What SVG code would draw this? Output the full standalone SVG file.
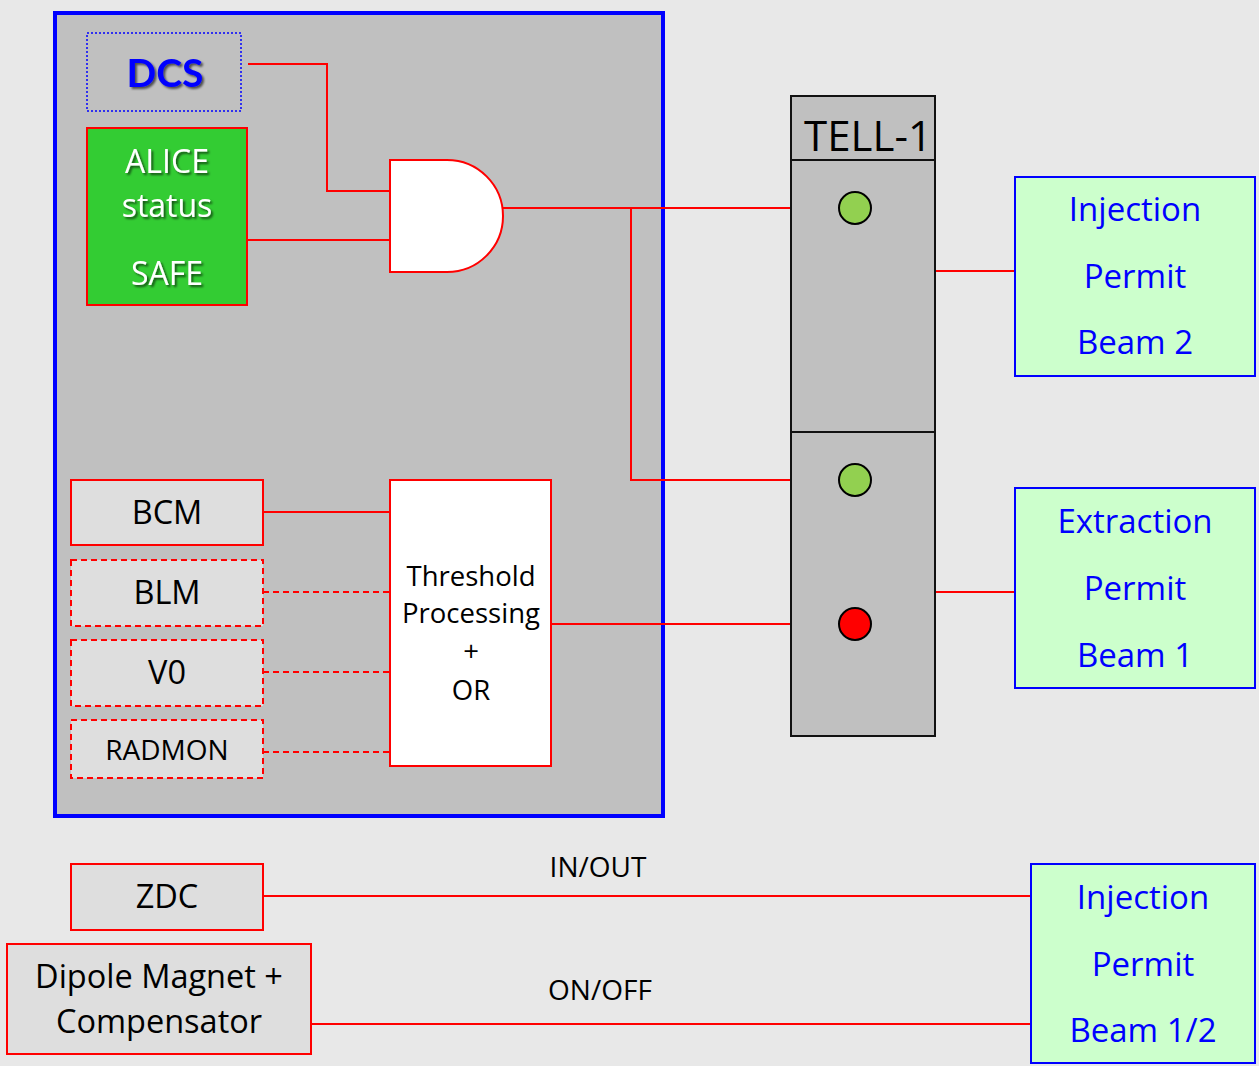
<svg xmlns="http://www.w3.org/2000/svg" width="1259" height="1066" viewBox="0 0 1259 1066">
<defs>
<filter id="sh" x="-20%" y="-20%" width="140%" height="140%">
<feDropShadow dx="2" dy="2" stdDeviation="1" flood-color="#000" flood-opacity="0.6"/>
</filter>
<style>
text{font-family:"Open Sans",Lato,sans-serif;text-anchor:middle}
.w{stroke:#ff0000;stroke-width:2;fill:none}
.d{stroke-dasharray:6 4}
.src{fill:#dedede;stroke:#ff0000;stroke-width:2}
.perm{fill:#ccffcc;stroke:#0000ff;stroke-width:2}
.pt{fill:#0000ff;font-size:33px}
.bt{fill:#000;font-size:32.5px}
.led{stroke:#000;stroke-width:2}
</style>
</defs>
<rect width="1259" height="1066" fill="#e8e8e8"/>
<g id="alice-box">
<rect x="55" y="13" width="608" height="803" fill="#c0c0c0" stroke="#0000ff" stroke-width="4"/>
</g>
<g id="connectors">
<polyline class="w" points="248,64 327,64 327,191 390,191"/>
<line class="w" x1="247" y1="240" x2="390" y2="240"/>
<line class="w" x1="503" y1="208" x2="791" y2="208"/>
<polyline class="w" points="631,208 631,480 791,480"/>
<line class="w" x1="263" y1="512" x2="390" y2="512"/>
<line class="w d" x1="263" y1="592" x2="390" y2="592"/>
<line class="w d" x1="263" y1="672" x2="390" y2="672"/>
<line class="w d" x1="263" y1="752" x2="390" y2="752"/>
<line class="w" x1="551" y1="624" x2="791" y2="624"/>
<line class="w" x1="935" y1="271" x2="1015" y2="271"/>
<line class="w" x1="935" y1="592" x2="1015" y2="592"/>
<line class="w" x1="263" y1="896" x2="1031" y2="896"/>
<line class="w" x1="311" y1="1024" x2="1031" y2="1024"/>
<text x="598" y="877" font-size="28" fill="#000">IN/OUT</text>
<text x="600" y="1000" font-size="28" fill="#000">ON/OFF</text>
</g>
<g id="dcs">
<rect x="87" y="33" width="154" height="78" fill="none" stroke="#0000ff" stroke-width="1.5" stroke-dasharray="2 2"/>
<text x="165" y="87" font-size="39" font-weight="bold" fill="#0000ff" filter="url(#sh)" style="font-family:Lato,sans-serif">DCS</text>
</g>
<g id="alice-status">
<rect x="87" y="128" width="160" height="177" fill="#33cc33" stroke="#ff0000" stroke-width="2"/>
<g fill="#fff" font-size="32" filter="url(#sh)">
<text x="167" y="173">ALICE</text>
<text x="167" y="217">status</text>
<text x="167" y="285">SAFE</text>
</g>
</g>
<g id="and-gate">
<path d="M390,160 H447 A56,56 0 0 1 447,272 H390 Z" fill="#fff" stroke="#ff0000" stroke-width="2"/>
</g>
<g id="bcm"><rect class="src" x="71" y="480" width="192" height="65"/><text class="bt" x="167" y="524">BCM</text></g>
<g id="blm"><rect class="src d" x="71" y="560" width="192" height="66"/><text class="bt" x="167" y="604">BLM</text></g>
<g id="v0"><rect class="src d" x="71" y="640" width="192" height="66"/><text class="bt" x="167" y="684">V0</text></g>
<g id="radmon"><rect class="src d" x="71" y="720" width="192" height="58"/><text x="167" y="760" font-size="28" fill="#000">RADMON</text></g>
<g id="threshold">
<rect x="390" y="480" width="161" height="286" fill="#fff" stroke="#ff0000" stroke-width="2"/>
<g font-size="27.5" fill="#000">
<text x="471" y="586">Threshold</text>
<text x="471" y="623">Processing</text>
<text x="471" y="661">+</text>
<text x="471" y="700">OR</text>
</g>
</g>
<g id="tell1">
<rect x="791" y="96" width="144" height="640" fill="#c0c0c0" stroke="#111" stroke-width="2"/>
<line x1="791" y1="160" x2="935" y2="160" stroke="#111" stroke-width="2"/>
<line x1="791" y1="432" x2="935" y2="432" stroke="#111" stroke-width="2"/>
<text x="868" y="151" font-size="42" fill="#000">TELL-1</text>
<circle class="led" cx="855" cy="208" r="16" fill="#92d050"/>
<circle class="led" cx="855" cy="480" r="16" fill="#92d050"/>
<circle class="led" cx="855" cy="624" r="16" fill="#ff0000"/>
</g>
<g id="inj-beam2">
<rect class="perm" x="1015" y="177" width="240" height="199"/>
<text class="pt" x="1135" y="221">Injection</text>
<text class="pt" x="1135" y="288">Permit</text>
<text class="pt" x="1135" y="354">Beam 2</text>
</g>
<g id="ext-beam1">
<rect class="perm" x="1015" y="488" width="240" height="200"/>
<text class="pt" x="1135" y="533">Extraction</text>
<text class="pt" x="1135" y="600">Permit</text>
<text class="pt" x="1135" y="667">Beam 1</text>
</g>
<g id="zdc"><rect class="src" x="71" y="864" width="192" height="66"/><text class="bt" x="167" y="908">ZDC</text></g>
<g id="dipole">
<rect class="src" x="7" y="944" width="304" height="110"/>
<text class="bt" x="159" y="988">Dipole Magnet +</text>
<text class="bt" x="159" y="1033">Compensator</text>
</g>
<g id="inj-beam12">
<rect class="perm" x="1031" y="864" width="224" height="199"/>
<text class="pt" x="1143" y="909">Injection</text>
<text class="pt" x="1143" y="976">Permit</text>
<text class="pt" x="1143" y="1042">Beam 1/2</text>
</g>
</svg>
